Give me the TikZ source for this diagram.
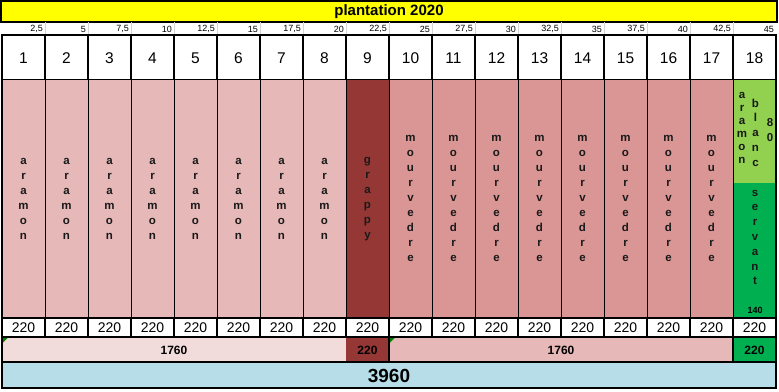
\documentclass[tikz,border=0pt]{standalone}
\usepackage{fontspec}
\setmainfont{Liberation Sans}
\definecolor{titleyellow}{HTML}{FFFF00}
\definecolor{aramonpink}{HTML}{E6B8B7}
\definecolor{lightpink}{HTML}{F2DCDB}
\definecolor{grappyred}{HTML}{953735}
\definecolor{mourvpink}{HTML}{DA9694}
\definecolor{blancgreen}{HTML}{92D050}
\definecolor{servgreen}{HTML}{00B050}
\definecolor{totalblue}{HTML}{B7DEE8}
\definecolor{gridgray}{HTML}{D4D4D4}
\definecolor{markgreen}{HTML}{008000}
\tikzset{
  lwthick/.style={line width=2pt},
  lwmed/.style={line width=1.5pt},
  lwthin/.style={line width=0.9pt},
  gridline/.style={draw=gridgray, line width=0.8pt},
  titletxt/.style={font=\bfseries\fontsize{15}{18}\selectfont, inner sep=0pt},
  scaletxt/.style={font=\fontsize{9}{10}\selectfont, inner sep=0pt, anchor=east},
  hdrtxt/.style={font=\fontsize{15.5}{18}\selectfont, inner sep=0pt},
  vert/.style={font=\bfseries\fontsize{11.5}{15}\selectfont, align=center, inner sep=0pt, text=black!90},
  rowtxt/.style={font=\fontsize{14}{16}\selectfont, inner sep=0pt},
  sumtxt/.style={font=\bfseries\fontsize{12}{14}\selectfont, inner sep=0pt},
  totaltxt/.style={font=\bfseries\fontsize{19}{22}\selectfont, inner sep=0pt},
  smalltxt/.style={font=\bfseries\fontsize{9}{10}\selectfont, inner sep=0pt},
}
\begin{document}
\begin{tikzpicture}[x=1pt,y=-1pt]
\useasboundingbox (0,0) rectangle (779,391);
\fill[white] (0,0) rectangle (779,391);

% ---- title bar
\fill[titleyellow] (1,1) rectangle (777,22);
\draw[lwthick] (1,1) rectangle (777,22);
\node[titletxt] (title) at (389,11.8) {plantation 2020};

% ---- scale row
\foreach \i in {1,...,17} {
  \draw[gridline] ({2+43*\i},22) -- ({2+43*\i},35);
}
\foreach \i/\t in {1/{2,5},2/5,3/{7,5},4/10,5/{12,5},6/15,7/{17,5},8/20,9/{22,5},10/25,11/{27,5},12/30,13/{32,5},14/35,15/{37,5},16/40,17/{42,5},18/45} {
  \node[scaletxt] (s\i) at ({2+43*\i-2},29) {\t};
}

% ---- header numbers
\foreach \i in {1,...,18} {
  \draw[lwthick] ({2+43*(\i-1)},35) rectangle ({2+43*\i},80);
  \node[hdrtxt] (h\i) at ({2+43*\i-21.5},58) {\i};
}

% ---- variety columns
\foreach \i in {1,...,8} {
  \fill[aramonpink] ({2+43*(\i-1)},80) rectangle ({2+43*\i},318);
}
\fill[grappyred] (346,80) rectangle (389,318);
\foreach \i in {10,...,17} {
  \fill[mourvpink] ({2+43*(\i-1)},80) rectangle ({2+43*\i},318);
}
\fill[blancgreen] (733,80) rectangle (776,183);
\fill[servgreen] (733,183) rectangle (776,318);
\foreach \i in {1,...,17} {
  \draw[lwthin] ({2+43*\i},80) -- ({2+43*\i},318);
}
\draw[lwthick] (2,80) -- (2,318);
\draw[lwthick] (776,80) -- (776,318);

\foreach \i in {1,...,8} {
  \node[vert] (v\i) at ({2+43*\i-21.5},199) {a\\r\\a\\m\\o\\n};
}
\node[vert] (v9) at (367.5,199) {g\\r\\a\\p\\p\\y};
\foreach \i in {10,...,17} {
  \node[vert] (v\i) at ({2+43*\i-21.5},198) {m\\o\\u\\r\\v\\e\\d\\r\\e};
}
\node[vert, font=\bfseries\fontsize{11.5}{13}\selectfont] (v18a) at (742,127.5) {a\\r\\a\\m\\o\\n};
\node[vert, font=\bfseries\fontsize{11.5}{14.7}\selectfont] (v18b) at (755.5,132.5) {b\\l\\a\\n\\c};
\node[vert, font=\bfseries\fontsize{11.5}{15}\selectfont] (v18c) at (770,130.5) {8\\0};
\node[vert, font=\bfseries\fontsize{11.5}{14.8}\selectfont] (v18d) at (755,237.5) {s\\e\\r\\v\\a\\n\\t};
\node[smalltxt] (v18e) at (755,310) {140};

% ---- 220 row
\foreach \i in {1,...,18} {
  \draw[lwmed] ({2+43*(\i-1)},318) rectangle ({2+43*\i},337);
  \node[rowtxt] (r\i) at ({2+43*\i-21.5},328) {220};
}

% ---- sums row
\fill[lightpink] (2,337) rectangle (346,362);
\fill[grappyred] (346,337) rectangle (389,362);
\fill[aramonpink] (389,337) rectangle (733,362);
\fill[servgreen] (733,337) rectangle (776,362);
\draw[lwthick] (2,337) rectangle (776,362);
\draw[lwthick] (389,337) -- (389,362);
\draw[lwthick] (733,337) -- (733,362);
\fill[markgreen] (3,338) -- (7.5,338) -- (3,342.5) -- cycle;
\fill[markgreen] (390,338) -- (394.5,338) -- (390,342.5) -- cycle;
\node[sumtxt] (sumA) at (174,350) {1760};
\node[sumtxt] (sumB) at (367.5,350) {220};
\node[sumtxt] (sumC) at (561,350) {1760};
\node[sumtxt] (sumD) at (754.5,350) {220};

% ---- total row
\fill[totalblue] (2,362) rectangle (776,388);
\draw[lwthick] (2,362) rectangle (776,388);
\node[totaltxt] (total) at (389,376) {3960};
\end{tikzpicture}
\end{document}
